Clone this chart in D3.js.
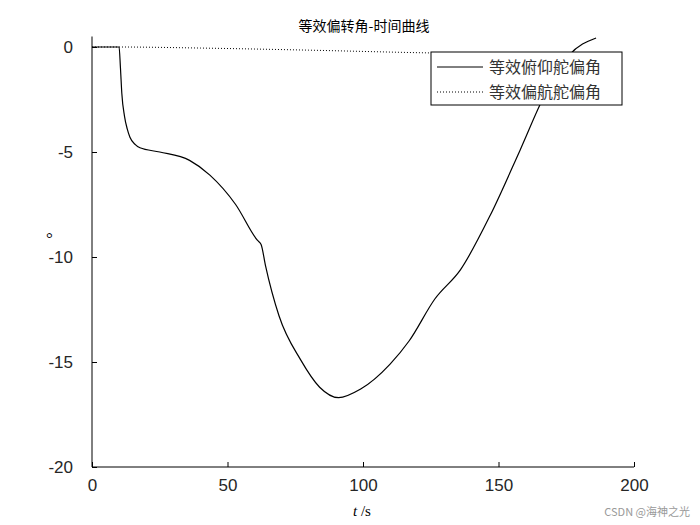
<!DOCTYPE html><html><head><meta charset="utf-8"><script src="https://d3js.org/d3.v7.min.js"></script>
<style>body{margin:0;background:#fff}</style></head><body><svg id="c" width="700" height="525"></svg>
<script>
const pitchT=[0,10,10.5,11,12,13,14,16,17.7,25,36,43.5,53,61,62.4,64,69,77,84,91,99,110,117,126.5,136,147,158,167,176,186];
const pitchV=[0,0,-1,-2.2,-3.3,-3.9,-4.3,-4.65,-4.8,-5.0,-5.4,-6.1,-7.5,-9.2,-9.4,-10.4,-12.8,-14.9,-16.2,-16.7,-16.3,-15.1,-14.0,-12.0,-10.6,-8.0,-4.9,-2.3,-0.4,0.43];
const yawT=[0,10,40,80,120,160,186];
const yawV=[0,0,-0.05,-0.15,-0.27,-0.36,-0.42];
const xTicks=[0,50,100,150,200], yTicks=[0,-5,-10,-15,-20];
const names=["等效俯仰舵偏角","等效偏航舵偏角"];
const svg=d3.select("#c");
const x=d3.scaleLinear().domain([0,200]).range([92,634]);
const y=d3.scaleLinear().domain([-20,0.5]).range([467,36.5]);
svg.append("g").attr("transform","translate(0,467)").call(d3.axisBottom(x).tickValues(xTicks).tickSize(-5).tickPadding(12))
 .call(g=>{g.selectAll("text").attr("font-family","Liberation Sans, Arial").attr("font-size",17).attr("fill","#262626");g.select(".domain").attr("d","M92,0H634");});
svg.append("g").attr("transform","translate(92,0)").call(d3.axisLeft(y).tickValues(yTicks).tickFormat(d=>d).tickSize(-5).tickPadding(19))
 .call(g=>{g.selectAll("text").attr("font-family","Liberation Sans, Arial").attr("font-size",17).attr("fill","#262626");g.select(".domain").attr("d","M0,467V36.5");});
const line=d3.line().curve(d3.curveMonotoneX);
svg.append("path").attr("d",line(yawT.map((t,i)=>[x(t),y(yawV[i])]))).attr("fill","none").attr("stroke","#000").attr("stroke-dasharray","1,2");
svg.append("path").attr("d",line(pitchT.map((t,i)=>[x(t),y(pitchV[i])]))).attr("fill","none").attr("stroke","#000").attr("stroke-width",1.2);
svg.append("text").attr("x",364).attr("y",31).attr("text-anchor","middle").attr("font-family","Noto Sans CJK SC").attr("font-size",14).text("等效偏转角-时间曲线");
svg.append("text").attr("x",46).attr("y",244).attr("font-family","Liberation Serif").attr("font-size",17).text("°");
const xl=svg.append("text").attr("x",362).attr("y",516).attr("text-anchor","middle").attr("font-family","Liberation Serif").attr("font-size",15);
xl.append("tspan").attr("font-style","italic").text("t");xl.append("tspan").text(" /s");
const lg=svg.append("g");
lg.append("rect").attr("x",431).attr("y",52).attr("width",191).attr("height",53).attr("fill","#fff").attr("stroke","#000");
names.forEach((n,i)=>{const yy=67+i*25;
 lg.append("line").attr("x1",437).attr("x2",483).attr("y1",yy).attr("y2",yy).attr("stroke","#000").attr("stroke-dasharray",i?"1,2":null);
 lg.append("text").attr("x",489).attr("y",yy+6).attr("font-family","Noto Sans CJK SC").attr("font-size",16).attr("fill","#333").text(n);});
svg.append("text").attr("x",690).attr("y",516).attr("text-anchor","end").attr("font-family","Noto Sans CJK SC").attr("font-size",11).attr("fill","#999").text("CSDN @海神之光");
</script></body></html>
